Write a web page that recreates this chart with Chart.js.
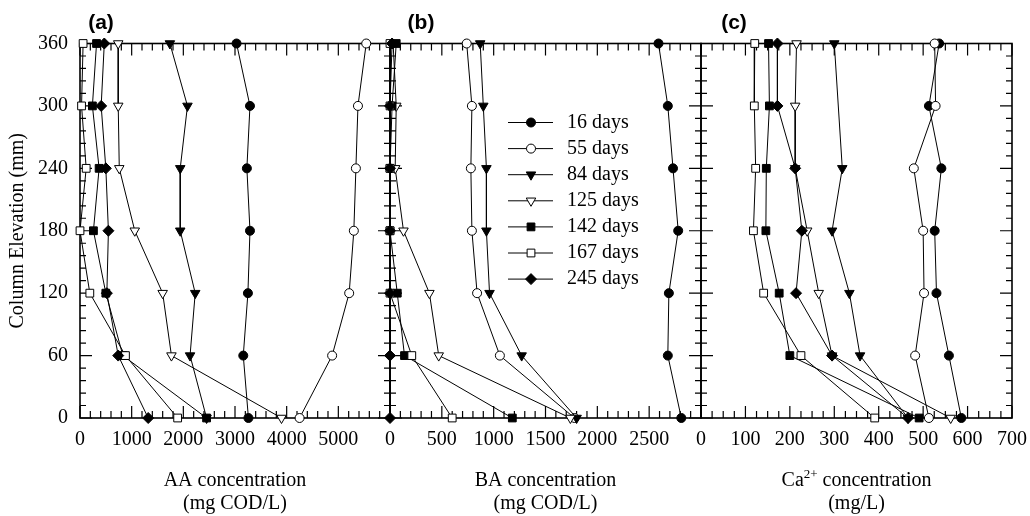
<!DOCTYPE html>
<html>
<head>
<meta charset="utf-8">
<script src="https://cdn.jsdelivr.net/npm/chart.js@4.4.1/dist/chart.umd.min.js"></script>
<style>
  html, body { margin: 0; padding: 0; background: #fff; }
  #wrap { position: relative; width: 1030px; height: 516px; }
  #wrap canvas { position: absolute; left: 0; top: 0; }
</style>
</head>
<body>
<div id="wrap">
  <canvas id="chart-aa" width="1030" height="516"></canvas>
  <canvas id="chart-ba" width="1030" height="516"></canvas>
  <canvas id="chart-ca" width="1030" height="516"></canvas>
</div>
<script>
// Column elevations (mm), top of column first
const elevations = [360, 300, 240, 180, 120, 60, 0];
const seriesLabels = ['16 days', '55 days', '84 days', '125 days', '142 days', '167 days', '245 days'];

// AA concentration (mg COD/L)
const aa16  = [3030, 3290, 3230, 3290, 3250, 3160, 3260];
const aa55  = [5540, 5380, 5340, 5300, 5210, 4880, 4250];
const aa84  = [1740, 2080, 1940, 1940, 2230, 2130, 2450];
const aa125 = [740, 740, 760, 1060, 1600, 1770, 3900];
const aa142 = [320, 240, 370, 260, 500, 830, 2450];
const aa167 = [60, 30, 120, 0, 190, 880, 1890];
const aa245 = [470, 410, 500, 550, 520, 740, 1320];

// BA concentration (mg COD/L)
const ba16  = [2590, 2680, 2730, 2780, 2690, 2680, 2810];
const ba55  = [740, 790, 780, 790, 840, 1060, 1780];
const ba84  = [870, 900, 930, 930, 960, 1270, 1800];
const ba125 = [30, 60, 50, 130, 380, 470, 1740];
const ba142 = [60, 20, 0, 0, 70, 140, 1180];
const ba167 = [0, 0, 0, 0, 0, 210, 600];
const ba245 = [20, 0, 0, 0, 0, 0, 0];

// Ca2+ concentration (mg/L); 84 days has no reading at 300 mm
const ca16  = [536, 513, 541, 526, 530, 558, 586];
const ca55  = [526, 528, 479, 500, 502, 482, 513];
const ca84  = [300, null, 318, 295, 334, 358, 466];
const ca125 = [215, 212, 212, 239, 265, 295, 562];
const ca142 = [152, 154, 147, 146, 176, 200, 491];
const ca167 = [121, 120, 123, 118, 141, 225, 391];
const ca245 = [172, 172, 212, 227, 214, 295, 466];

// Tick labels
const elevTicks = [0, 60, 120, 180, 240, 300, 360];
const aaTicks = [0, 1000, 2000, 3000, 4000, 5000];
const baTicks = [0, 500, 1000, 1500, 2000, 2500];
const caTicks = [0, 100, 200, 300, 400, 500, 600, 700];

// Marker look for each series
const markerStyles = [
    { pointStyle: 'circle', fill: '#000', radius: 4.5, rotation: 0 },
    { pointStyle: 'circle', fill: '#fff', radius: 4.5, rotation: 0 },
    { pointStyle: 'triangle', fill: '#000', radius: 5.5, rotation: 180 },
    { pointStyle: 'triangle', fill: '#fff', radius: 5.5, rotation: 180 },
    { pointStyle: 'rect', fill: '#000', radius: 5.5, rotation: 0 },
    { pointStyle: 'rect', fill: '#fff', radius: 5.5, rotation: 0 },
    { pointStyle: 'rectRot', fill: '#000', radius: 5.5, rotation: 0 }
];

const SERIF = '"Liberation Serif", "Times New Roman", serif';
const PLOT_TOP = 43.5;
const PLOT_BOTTOM = 418;

const panels = [
    {
        id: 'chart-aa', series: [aa16, aa55, aa84, aa125, aa142, aa167, aa245],
        xMax: 6000, majorStep: 1000, minorStep: 200, ticks: aaTicks,
        left: 80, right: 390, letter: '(a)', letterX: 101,
        title: ['AA concentration', '(mg COD/L)'], showY: true, showLegend: false
    },
    {
        id: 'chart-ba', series: [ba16, ba55, ba84, ba125, ba142, ba167, ba245],
        xMax: 3000, majorStep: 500, minorStep: 100, ticks: baTicks,
        left: 390, right: 701, letter: '(b)', letterX: 421,
        title: ['BA concentration', '(mg COD/L)'], showY: false, showLegend: true
    },
    {
        id: 'chart-ca', series: [ca16, ca55, ca84, ca125, ca142, ca167, ca245],
        xMax: 700, majorStep: 100, minorStep: 25, ticks: caTicks,
        left: 701, right: 1012, letter: '(c)', letterX: 734,
        title: ['Ca', '(mg/L)'], showY: false, showLegend: false, superTitle: true
    }
];

function drawMarker(ctx, style, x, y) {
    ctx.fillStyle = style.fill;
    ctx.strokeStyle = '#000';
    ctx.lineWidth = 1;
    Chart.helpers.drawPoint(ctx, {
        pointStyle: style.pointStyle,
        radius: style.radius,
        rotation: style.rotation,
        borderWidth: 1
    }, x, y);
}

// Frame, inward ticks, tick labels, titles and legend
const panelAxes = {
    id: 'panelAxes',
    beforeDatasetsDraw(chart, args, opts) {
        const ctx = chart.ctx;
        const area = chart.chartArea;
        const xs = chart.scales.x;
        const ys = chart.scales.y;
        ctx.save();
        ctx.strokeStyle = '#000';
        ctx.lineWidth = 1.2;
        ctx.beginPath();
        for (let v = 0; v <= xs.max + 1e-6; v += opts.minorStep) {
            const px = xs.getPixelForValue(v);
            const major = Math.abs(v / opts.majorStep - Math.round(v / opts.majorStep)) < 1e-6;
            const len = major ? 12 : 7;
            ctx.moveTo(px, area.bottom); ctx.lineTo(px, area.bottom - len);
            ctx.moveTo(px, area.top); ctx.lineTo(px, area.top + len);
        }
        for (let v = 0; v <= 360; v += 12) {
            const py = ys.getPixelForValue(v);
            const len = v % 60 === 0 ? 12 : 6;
            ctx.moveTo(area.left, py); ctx.lineTo(area.left + len, py);
            ctx.moveTo(area.right, py); ctx.lineTo(area.right - len, py);
        }
        ctx.stroke();
        ctx.lineWidth = 1.6;
        ctx.strokeRect(area.left, area.top, area.right - area.left, area.bottom - area.top);

        ctx.fillStyle = '#000';
        ctx.font = '20px ' + SERIF;
        ctx.textAlign = 'center';
        ctx.textBaseline = 'middle';
        opts.ticks.forEach(v => {
            ctx.fillText(String(v), xs.getPixelForValue(v), 440);
        });

        if (opts.showY) {
            ctx.textAlign = 'right';
            elevTicks.forEach(v => {
                ctx.fillText(String(v), 68, ys.getPixelForValue(v));
            });
            ctx.save();
            ctx.translate(18, (area.top + area.bottom) / 2);
            ctx.rotate(-Math.PI / 2);
            ctx.textAlign = 'center';
            ctx.textBaseline = 'middle';
            ctx.fillText('Column Elevation (mm)', 0, 0);
            ctx.restore();
        }

        const cx = (area.left + area.right) / 2;
        ctx.textBaseline = 'alphabetic';
        if (opts.superTitle) {
            const main = 'Ca';
            const sup = '2+';
            const rest = ' concentration';
            ctx.font = '20px ' + SERIF;
            const w1 = ctx.measureText(main).width;
            const w3 = ctx.measureText(rest).width;
            ctx.font = '13px ' + SERIF;
            const w2 = ctx.measureText(sup).width;
            let x0 = cx - (w1 + w2 + w3) / 2;
            ctx.textAlign = 'left';
            ctx.font = '20px ' + SERIF;
            ctx.fillText(main, x0, 486);
            ctx.font = '13px ' + SERIF;
            ctx.fillText(sup, x0 + w1, 478);
            ctx.font = '20px ' + SERIF;
            ctx.fillText(rest, x0 + w1 + w2, 486);
        } else {
            ctx.textAlign = 'center';
            ctx.fillText(opts.title[0], cx, 486);
        }
        ctx.textAlign = 'center';
        ctx.font = '20px ' + SERIF;
        ctx.fillText(opts.title[1], cx, 509);

        ctx.font = 'bold 21px "Liberation Sans", Arial, sans-serif';
        ctx.textBaseline = 'middle';
        ctx.fillText(opts.letter, opts.letterX, 23);
        ctx.restore();
    },
    afterDatasetsDraw(chart, args, opts) {
        if (!opts.showLegend) return;
        const ctx = chart.ctx;
        ctx.save();
        chart.data.datasets.forEach((ds, i) => {
            const y = 122.5 + i * 26.1;
            ctx.strokeStyle = '#000';
            ctx.lineWidth = 1;
            ctx.beginPath();
            ctx.moveTo(508, y);
            ctx.lineTo(553, y);
            ctx.stroke();
            drawMarker(ctx, markerStyles[i], 531, y);
            ctx.fillStyle = '#000';
            ctx.font = '20px ' + SERIF;
            ctx.textAlign = 'left';
            ctx.textBaseline = 'middle';
            ctx.fillText(ds.label, 567, y);
        });
        ctx.restore();
    }
};

function buildDatasets(series) {
    return series.map((vals, i) => {
        const m = markerStyles[i];
        return {
            label: seriesLabels[i],
            data: vals.map((v, k) => ({ x: v, y: elevations[k] })),
            borderColor: '#000',
            borderWidth: 1,
            pointStyle: m.pointStyle,
            pointRadius: m.radius,
            pointRotation: m.rotation,
            pointBackgroundColor: m.fill,
            pointBorderColor: '#000',
            pointBorderWidth: 1,
            tension: 0,
            spanGaps: true,
            clip: false,
            order: series.length - i
        };
    });
}

panels.forEach(p => {
    const ctx = document.getElementById(p.id).getContext('2d');
    new Chart(ctx, {
        type: 'line',
        data: { datasets: buildDatasets(p.series) },
        options: {
            responsive: false,
            animation: false,
            events: [],
            layout: {
                padding: { left: p.left, right: 1030 - p.right, top: PLOT_TOP, bottom: 516 - PLOT_BOTTOM }
            },
            scales: {
                x: { type: 'linear', min: 0, max: p.xMax, display: false },
                y: { type: 'linear', min: 0, max: 360, display: false }
            },
            plugins: {
                legend: { display: false },
                tooltip: { enabled: false },
                panelAxes: {
                    ticks: p.ticks, majorStep: p.majorStep, minorStep: p.minorStep,
                    showY: p.showY, showLegend: p.showLegend, title: p.title,
                    superTitle: !!p.superTitle, letter: p.letter, letterX: p.letterX
                }
            }
        },
        plugins: [panelAxes]
    });
});
</script>
</body>
</html>
